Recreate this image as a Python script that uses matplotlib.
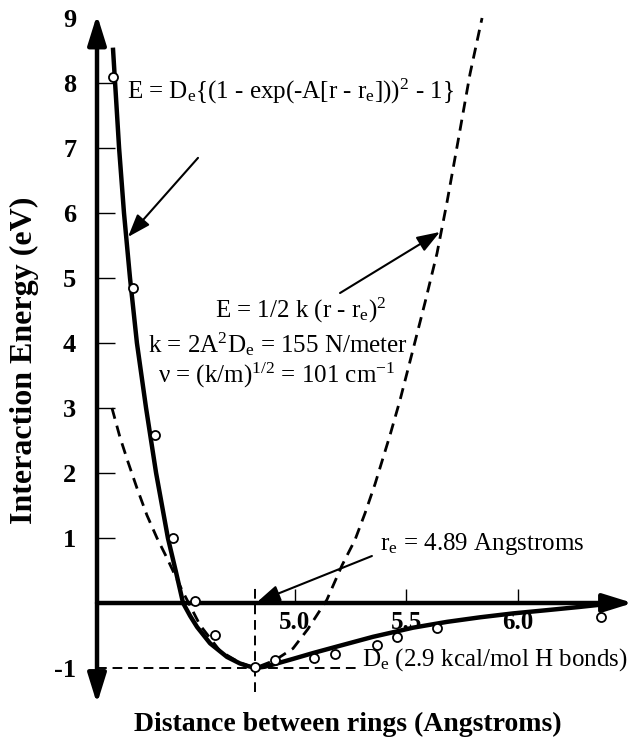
import matplotlib
matplotlib.use('Agg')
import matplotlib.pyplot as plt

plt.rcParams['font.family'] = ['Liberation Serif', 'DejaVu Serif']
plt.rcParams['mathtext.fontset'] = 'custom'
plt.rcParams['mathtext.rm'] = 'Liberation Serif'
plt.rcParams['mathtext.it'] = 'Liberation Serif:italic'
plt.rcParams['mathtext.bf'] = 'Liberation Serif:bold'

# ---------------- data ----------------
point_r = [4.184, 4.274, 4.372, 4.453, 4.552, 4.641, 4.821, 4.910, 5.085,
           5.179, 5.368, 5.457, 5.637, 6.372]
point_e = [8.09, 4.85, 2.58, 1.00, 0.03, -0.49, -0.98, -0.88, -0.85,
           -0.78, -0.65, -0.52, -0.38, -0.22]

morse_r = [4.184, 4.211, 4.233, 4.260, 4.291, 4.332, 4.377, 4.430, 4.466,
           4.498, 4.530, 4.561, 4.619, 4.695, 4.753, 4.789, 4.821, 4.865,
           4.919, 4.991, 5.081, 5.188, 5.350, 5.529, 5.682, 5.830, 5.978,
           6.130, 6.278, 6.413]
morse_e = [8.51, 7.00, 6.00, 5.00, 4.00, 3.00, 2.00, 1.00, 0.48,
           0.00, -0.20, -0.37, -0.62, -0.83, -0.93, -0.97, -1.00, -0.98,
           -0.93, -0.86, -0.77, -0.67, -0.52, -0.38, -0.29, -0.22, -0.16,
           -0.11, -0.06, -0.01]

harm_r = [4.179, 4.215, 4.251, 4.291, 4.336, 4.381, 4.426, 4.493, 4.574,
          4.664, 4.753, 4.821, 4.910, 4.991, 5.058, 5.143, 5.211, 5.269,
          5.314, 5.359, 5.426, 5.471, 5.516, 5.583, 5.637, 5.682, 5.731,
          5.785, 5.839]
harm_e = [3.00, 2.55, 2.17, 1.77, 1.35, 1.00, 0.69, 0.20, -0.34,
          -0.74, -0.92, -1.00, -0.88, -0.70, -0.40, 0.05, 0.58, 0.97,
          1.38, 1.83, 2.58, 3.12, 3.72, 4.62, 5.38, 6.17, 7.10,
          8.14, 9.00]

r_min = 4.821      # plotted position of r_e
D_min = -1.0       # plotted well depth

x_ticks = [5.0, 5.5, 6.0]
x_tick_labels = ['5.0', '5.5', '6.0']
y_ticks = [-1, 1, 2, 3, 4, 5, 6, 7, 8, 9]
y_tick_labels = ['-1', '1', '2', '3', '4', '5', '6', '7', '8', '9']

x_label = 'Distance between rings (Angstroms)'
y_label = 'Interaction Energy (eV)'

# ---------------- figure ----------------
fig = plt.figure(figsize=(6.35, 7.38), dpi=100)
ax = fig.add_axes([60 / 635, 23 / 738, 575 / 635, 705 / 738])
ax.set_xlim(3.946, 6.525)
ax.set_ylim(-1.723, 9.123)

yaxis_x = 4.112
ax.spines['left'].set_position(('data', yaxis_x))
ax.spines['bottom'].set_position(('data', 0))
for s in ax.spines.values():
    s.set_color('none')
ax.patch.set_alpha(0)

# axis arrows
ax.annotate('', xy=(yaxis_x, 9.05), xytext=(yaxis_x, -1.55),
            arrowprops=dict(arrowstyle='<|-|>,head_length=0.9,head_width=0.28',
                            lw=3.2, color='k', shrinkA=0, shrinkB=0,
                            mutation_scale=20), zorder=3)
ax.annotate('', xy=(6.515, 0), xytext=(yaxis_x, 0),
            arrowprops=dict(arrowstyle='-|>,head_length=0.9,head_width=0.28',
                            lw=3.2, color='k', shrinkA=0, shrinkB=0,
                            mutation_scale=20), zorder=3)

ax.set_xticks(x_ticks, x_tick_labels, fontweight='bold', fontsize=18)
ax.set_yticks(y_ticks, y_tick_labels, fontweight='bold', fontsize=19)
ax.tick_params(axis='x', direction='in', length=10, width=1.0, pad=6)
ax.tick_params(axis='y', direction='in', length=13, width=1.0, pad=15)
for t, v in zip(ax.yaxis.get_major_ticks(), y_ticks):
    if v in (9, -1):
        t.tick1line.set_visible(False)

# reference dashed lines
ax.hlines(D_min, yaxis_x, 5.278, colors='k', linestyles=(0, (5, 3)), lw=1.4)
ax.vlines(r_min, -1.37, 0.25, colors='k', linestyles=(0, (5, 3)), lw=1.4)

# curves
ax.plot(harm_r, harm_e, color='k', lw=2.0, dashes=(4, 2.6), zorder=4)
ax.plot(morse_r, morse_e, color='k', lw=3.2, zorder=4,
        solid_joinstyle='round')
ax.plot(point_r, point_e, 'o', mfc='white', mec='k', ms=6.5, mew=1.3, zorder=6)

# annotations
fs = 18
arr = dict(arrowstyle='-|>,head_length=0.7,head_width=0.25', lw=1.5,
           color='k', shrinkA=0, shrinkB=0, mutation_scale=20)
ax.text(4.247, 7.754,
        r'E = D$_\mathrm{e}${(1 - exp(-A[r - r$_\mathrm{e}$]))$^\mathrm{2}$ - 1}',
        fontsize=fs, va='baseline', ha='left')
ax.annotate('', xy=(4.251, 5.631), xytext=(4.565, 6.848), arrowprops=arr)

ax.text(4.641, 4.385, r'E = 1/2 k (r - r$_\mathrm{e}$)$^\mathrm{2}$',
        fontsize=fs, va='baseline', ha='left')
ax.text(4.341, 3.862, r'k = 2A$^\mathrm{2}$D$_\mathrm{e}$ = 155 N/meter',
        fontsize=fs, va='baseline', ha='left')
ax.text(4.386, 3.385, r'ν = (k/m)$^\mathrm{1/2}$ = 101 cm$^\mathrm{-1}$',
        fontsize=fs, va='baseline', ha='left')
ax.annotate('', xy=(5.650, 5.708), xytext=(5.202, 4.769), arrowprops=arr)

ax.text(5.381, 0.815, r'r$_\mathrm{e}$ = 4.89 Angstroms',
        fontsize=fs, va='baseline', ha='left')
ax.annotate('', xy=(4.830, 0.015), xytext=(5.345, 0.723), arrowprops=arr)

ax.text(5.300, -0.969, r'D$_\mathrm{e}$ (2.9 kcal/mol H bonds)',
        fontsize=fs, va='baseline', ha='left')

fig.text(348 / 635, 1 - 731 / 738, x_label, ha='center', va='baseline',
         fontsize=20, fontweight='bold')
fig.text(24 / 635, 1 - 360 / 738, y_label, ha='center', va='center',
         rotation=90, fontsize=23, fontweight='bold')

fig.savefig('out.png', dpi=100)
